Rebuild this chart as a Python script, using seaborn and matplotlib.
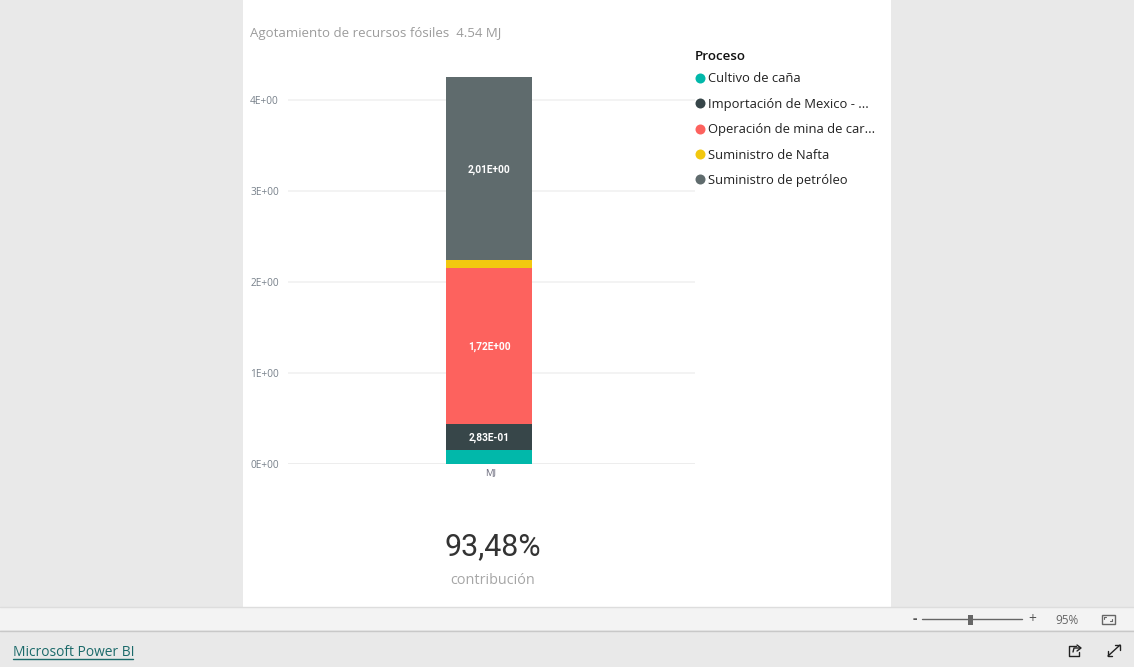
# -*- coding: utf-8 -*-
"""
Stacked column, Power BI report view: fossil resource depletion by process
"""
import matplotlib
matplotlib.use('Agg')
import matplotlib.pyplot as plt
from matplotlib.lines import Line2D
from matplotlib.patches import Rectangle
from matplotlib.transforms import ScaledTranslation
import numpy as np
import pandas as pd
import seaborn as sns

procesos = ['Cultivo de caña', 'Importación de Mexico - ...', 'Operación de mina de car...',
            'Suministro de Nafta', 'Suministro de petróleo']
valores = [0.148, 0.283, 1.72, 0.09, 2.01]
etiquetas = [None, '2,83E-01', '1,72E+00', None, '2,01E+00']
colores = ['#01B8AA', '#374649', '#FD625E', '#F2C80F', '#5F6B6D']
categoria = ['MJ']
yticks = [0, 1, 2, 3, 4]
ytick_labels = ['0E+00', '1E+00', '2E+00', '3E+00', '4E+00']

W, H = 1134, 667
sns.set_theme(style='white')
plt.rcParams['font.family'] = ['Open Sans', 'DejaVu Sans']

fig = plt.figure(figsize=(W / 100, H / 100), dpi=100, facecolor='#E9E9E9')

# page chrome, in pixel coordinates
bg = fig.add_axes([0, 0, 1, 1], zorder=0)
bg.set_xlim(0, W)
bg.set_ylim(H, 0)
bg.axis('off')
bg.add_patch(Rectangle((243, 0), 648, 606.5, fc='white', ec='none'))
bg.add_patch(Rectangle((0, 607), W, 23, fc='#F3F3F3', ec='none'))
bg.plot([0, W], [607, 607], color='#DDDDDD', lw=1)
bg.plot([0, W], [630.5, 630.5], color='#C8C8C8', lw=1)

bg.text(250, 33.5, 'Agotamiento de recursos fósiles  4.54 MJ', fontsize=9.55, color='#9C9C9C',
        family='Open Sans', va='center', ha='left')
bg.text(493, 547, '93,48%', fontsize=22, color='#333333', family='Roboto', va='center', ha='center')
bg.text(493, 580, 'contribución', fontsize=10.4, color='#A6A6A6', va='center', ha='center')

# zoom control
bg.text(915, 618.5, '-', fontsize=10, color='#555555', va='center', ha='center', fontweight='bold')
bg.plot([922, 1022], [619, 619], color='#666666', lw=1)
bg.add_patch(Rectangle((968, 614.5), 5, 10, fc='#666666', ec='none'))
bg.text(1032, 619.5, '+', fontsize=10, color='#555555', va='center', ha='center')
bg.text(1067, 620, '95%', fontsize=8.5, color='#666666', va='center', ha='center')
bg.add_patch(Rectangle((1101.5, 614.5), 13, 9, fc='none', ec='#666666', lw=1))
bg.plot([1104, 1104, 1106], [619, 617, 617], color='#666666', lw=0.8)
bg.plot([1112, 1112, 1110], [619, 621, 621], color='#666666', lw=0.8)

# footer
bg.text(13, 652.5, 'Microsoft Power BI', fontsize=9.9, color='#1B6A6A', va='center', ha='left')
bg.plot([13, 133], [658.5, 658.5], color='#1B6A6A', lw=1)
bg.plot([1076, 1069, 1069, 1079, 1079], [646, 646, 656, 656, 652], color='#222222', lw=1)
bg.plot([1073, 1074, 1080], [652, 648, 648], color='#222222', lw=1)
bg.plot([1077, 1081, 1077], [645, 648, 651], color='#222222', lw=1)
bg.plot([1108, 1120], [656, 645], color='#222222', lw=1)
bg.plot([1108, 1108, 1112], [651, 656, 656], color='#222222', lw=1)
bg.plot([1115, 1120, 1120], [645, 645, 650], color='#222222', lw=1)

# chart
x0, x1, y_top, y_base = 288, 695, 60, 463.5
ax = fig.add_axes([x0 / W, 1 - y_base / H, (x1 - x0) / W, (y_base - y_top) / H], zorder=1)
ax.patch.set_alpha(0)

df = pd.DataFrame({'categoria': categoria * len(procesos), 'proceso': procesos, 'valor': valores})
df['base'] = np.cumsum(valores) - np.array(valores)
for i, fila in df.iterrows():
    sns.barplot(data=df.iloc[[i]], x='categoria', y='valor', color=colores[i], saturation=1,
                width=0.8, bottom=fila['base'], errorbar=None, ax=ax, zorder=3, linewidth=0)
    if etiquetas[i] is not None:
        ax.text(0, fila['base'] + fila['valor'] / 2 - 0.012, etiquetas[i], color='white', fontsize=7.3,
                fontweight='bold', family='Roboto', ha='center', va='center', zorder=4)

ax.set_xlim(-1.87, 1.916)
ax.set_ylim(0, (y_base - y_top) / 90.9)
ax.set_yticks(yticks, ytick_labels)
ax.set_xlabel('')
ax.set_ylabel('')
ax.grid(axis='y', color='#F1F1F1', lw=1.2, zorder=0)
ax.grid(axis='x', visible=False)
ax.set_axisbelow(True)
sns.despine(ax=ax, left=True, bottom=True, top=True, right=True)
ax.tick_params(axis='y', length=0, pad=6.5, labelsize=7.3, labelcolor='#77808A')
ax.tick_params(axis='x', length=0, pad=3, labelsize=6.8, labelcolor='#6F6F80')
ax.axhline(0, color='#EDEDED', lw=1.4, zorder=1)
for lab in ax.get_xticklabels():
    lab.set_transform(lab.get_transform() + ScaledTranslation(2 / 100, 0, fig.dpi_scale_trans))

# legend
handles = [Line2D([], [], marker='o', ls='none', ms=7.2, mfc=c, mec='none') for c in colores]
leg = fig.legend(handles, procesos, title='Proceso', loc='upper left',
                 bbox_to_anchor=(695 / W, 1 - 47 / H), frameon=False, alignment='left',
                 fontsize=9.4, title_fontsize=9.6, labelspacing=0.95, handletextpad=0.22,
                 handlelength=0.78, borderpad=0, borderaxespad=0, labelcolor='#222222')
leg.get_title().set_color('#111111')
leg.get_title().set_fontweight('semibold')
leg.get_title().set_position((0, -2.9))

fig.savefig('out.png', dpi=100, facecolor=fig.get_facecolor())
